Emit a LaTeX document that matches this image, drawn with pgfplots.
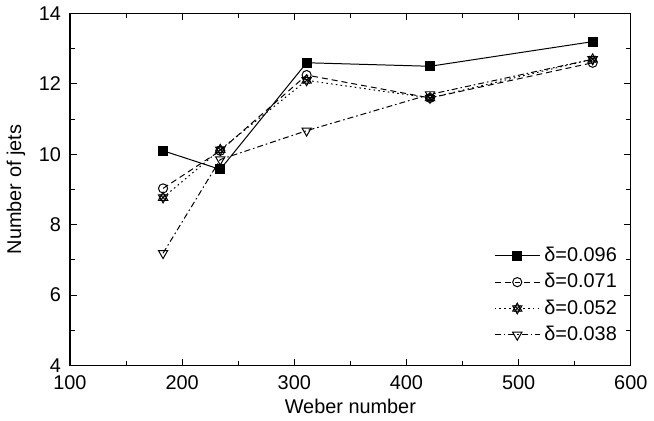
\documentclass[border=0pt]{standalone}
\usepackage{fontspec}
\setmainfont{Liberation Sans}
\usepackage{pgfplots}
\pgfplotsset{compat=1.18}
\pgfdeclareplotmark{tristar}{%
  \pgfpathmoveto{\pgfqpoint{0pt}{\pgfplotmarksize}}%
  \pgfpathlineto{\pgfqpoint{-0.866\pgfplotmarksize}{-0.5\pgfplotmarksize}}%
  \pgfpathlineto{\pgfqpoint{0.866\pgfplotmarksize}{-0.5\pgfplotmarksize}}%
  \pgfpathclose
  \pgfpathmoveto{\pgfqpoint{0pt}{-\pgfplotmarksize}}%
  \pgfpathlineto{\pgfqpoint{-0.866\pgfplotmarksize}{0.5\pgfplotmarksize}}%
  \pgfpathlineto{\pgfqpoint{0.866\pgfplotmarksize}{0.5\pgfplotmarksize}}%
  \pgfpathclose
  \pgfpathmoveto{\pgfqpoint{-0.6\pgfplotmarksize}{-0.6\pgfplotmarksize}}%
  \pgfpathlineto{\pgfqpoint{0.6\pgfplotmarksize}{0.6\pgfplotmarksize}}%
  \pgfpathmoveto{\pgfqpoint{-0.6\pgfplotmarksize}{0.6\pgfplotmarksize}}%
  \pgfpathlineto{\pgfqpoint{0.6\pgfplotmarksize}{-0.6\pgfplotmarksize}}%
  \pgfusepathqstroke
}
\begin{document}
\begin{tikzpicture}
\begin{axis}[
  scale only axis,
  width=282pt, height=177pt,
  xmin=100, xmax=600, ymin=4, ymax=14,
  xtick={100,200,300,400,500,600},
  ytick={4,6,8,10,12,14},
  minor tick num=1,
  tick align=inside,
  major tick length=3.5pt, minor tick length=2.5pt,
  tick style={black, line width=0.5pt},
  axis line style={line width=0.6pt},
  /pgf/number format/assume math mode=true,
  ticklabel style={font=\fontsize{10}{11}\selectfont},
  xticklabel style={yshift=-1.5pt},
  yticklabel style={xshift=-1pt},
  label style={font=\fontsize{10}{11}\selectfont},
  xlabel={Weber number},
  ylabel={Number of jets},
  xlabel style={yshift=2pt},
  legend style={at={(0.745,0.36)}, anchor=north west, draw=none, fill=none,
    font=\fontsize{10}{11}\selectfont, row sep=0.5pt},
  legend cell align=left,
  legend image code/.code={%
    \draw[#1, mark repeat=2, mark phase=2] plot coordinates {(0cm,0cm) (0.4cm,0cm) (0.8cm,0cm)};},
]
\addplot[black, solid, line width=0.5pt, mark=square*, mark size=2.3pt, mark options={solid}]
  coordinates {(183,10.1) (234,9.57) (311,12.6) (421,12.5) (566,13.2)};
\addlegendentry{δ=0.096}
\addplot[black, dash pattern=on 3pt off 2pt, line width=0.5pt, mark=o, mark size=2.3pt, mark options={solid}]
  coordinates {(183,9.03) (234,10.1) (311,12.25) (421,11.6) (566,12.6)};
\addlegendentry{δ=0.071}
\addplot[black, dash pattern=on 0.8pt off 1.6pt, line width=0.5pt, mark=tristar, mark size=2.7pt, mark options={solid}]
  coordinates {(183,8.77) (234,10.13) (311,12.1) (421,11.6) (566,12.7)};
\addlegendentry{δ=0.052}
\addplot[black, dash pattern=on 3pt off 1.5pt on 0.8pt off 1.5pt, line width=0.5pt, mark=triangle, mark size=2.7pt, mark options={solid, rotate=180}]
  coordinates {(183,7.19) (234,9.85) (311,10.67) (421,11.7) (566,12.7)};
\addlegendentry{δ=0.038}
\end{axis}
\end{tikzpicture}
\end{document}
